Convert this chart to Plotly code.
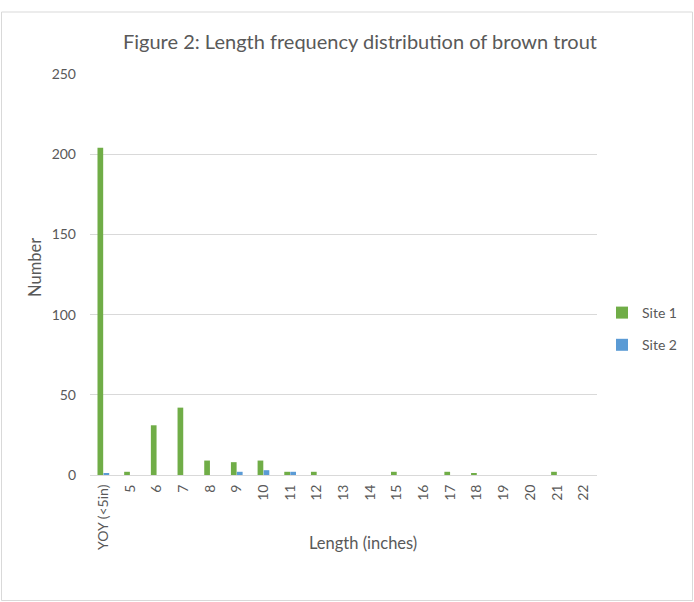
import plotly.graph_objects as go

categories = ["YOY (<5in)", "5", "6", "7", "8", "9", "10", "11", "12", "13", "14",
              "15", "16", "17", "18", "19", "20", "21", "22"]
site1 = [204, 2, 31, 42, 9, 8, 9, 2, 2, 0, 0, 2, 0, 2, 1, 0, 0, 2, 0]
site2 = [1, 0, 0, 0, 0, 2, 3, 2, 0, 0, 0, 0, 0, 0, 0, 0, 0, 0, 0]

FONT = "Lato"
TXT = "#595959"

fig = go.Figure()
fig.add_trace(go.Bar(x=categories, y=site1, name="Site 1", marker_color="#70ad47",
                     marker_line_width=0, legendgroup="s1"))
fig.add_trace(go.Bar(x=categories, y=site2, name="Site 2", marker_color="#5b9bd5",
                     marker_line_width=0, legendgroup="s2"))

L, R, T, B = 90, 97, 74, 127
W, H = 694, 602
pw, ph = W - L - R, H - T - B

def px(x):
    return (x - L) / pw

def py(y):
    return (H - B - y) / ph

fig.update_layout(
    width=W, height=H,
    margin=dict(l=L, r=R, t=T, b=B, autoexpand=False),
    paper_bgcolor="white", plot_bgcolor="white",
    barmode="group", bargap=0.55, bargroupgap=0.05,
    font=dict(family=FONT, color=TXT, size=14),
    title=dict(text="Figure 2: Length frequency distribution of brown trout",
               x=360 / W, xref="container", xanchor="center",
               y=1 - 42 / H, yref="container", yanchor="middle",
               font=dict(size=20, color=TXT, family=FONT)),
    legend=dict(x=602 / W, y=1 - 297 / H, xref="container", yref="container",
                xanchor="left", yanchor="top",
                font=dict(size=14, color=TXT), tracegroupgap=11,
                itemwidth=30, bgcolor="rgba(0,0,0,0)"),
    xaxis=dict(tickangle=-90, showgrid=False, showline=True, linecolor="#d9d9d9",
               ticks="", tickfont=dict(size=14, color=TXT), ticklabelstandoff=3,
               automargin=False),
    yaxis=dict(range=[0, 250], dtick=50, showgrid=True, gridcolor="#d9d9d9",
               zeroline=False, showline=False, ticks="",
               tickfont=dict(size=14, color=TXT), ticklabelstandoff=13,
               automargin=False),
    annotations=[
        dict(text="Length (inches)", x=px(363), y=py(543), xref="paper", yref="paper",
             showarrow=False, xanchor="center", yanchor="middle",
             font=dict(size=16.5, color=TXT)),
        dict(text="Number", x=px(35), y=py(268), xref="paper", yref="paper",
             showarrow=False, textangle=-90, xanchor="center", yanchor="middle",
             font=dict(size=16.5, color=TXT)),
    ],
    shapes=[dict(type="rect", xref="paper", yref="paper",
                 x0=px(1.5), x1=px(692.5), y0=py(600.5), y1=py(12),
                 line=dict(color="#d9d9d9", width=1), fillcolor="rgba(0,0,0,0)",
                 layer="below")],
)

fig.write_html("out.html", config={"displayModeBar": False},
               post_script="document.body.style.margin='0px';document.body.style.overflow='hidden';")
